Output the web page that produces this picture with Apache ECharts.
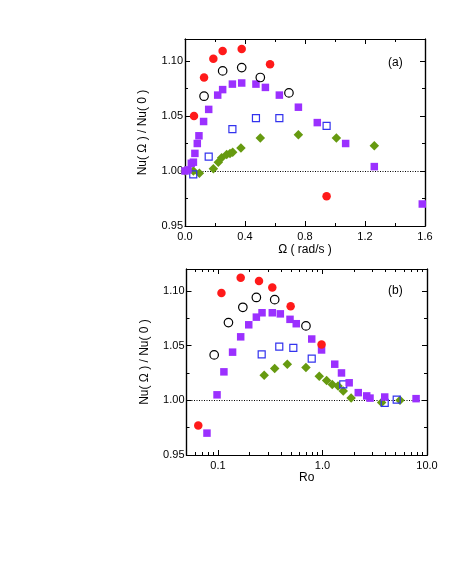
<!DOCTYPE html>
<html>
<head>
<meta charset="utf-8">
<script src="https://cdn.jsdelivr.net/npm/echarts@6/dist/echarts.min.js"></script>
<style>html,body{margin:0;padding:0;background:#fff}#c{width:450px;height:582px}</style>
</head>
<body>
<div id="c"></div>
<script>
// ---- Panel (a): Nu(Ω)/Nu(0) vs Ω (rad/s)
const aRedX = [0.06, 0.127, 0.189, 0.251, 0.378, 0.567, 0.944];
const aRedY = [1.050, 1.085, 1.102, 1.109, 1.111, 1.097, 0.977];
const aBlackX = [0.127, 0.251, 0.378, 0.502, 0.693];
const aBlackY = [1.068, 1.091, 1.094, 1.085, 1.071];
const aPurpleX = [0, 0.02, 0.042, 0.056, 0.066, 0.082, 0.093, 0.124, 0.158, 0.218, 0.251, 0.316, 0.378, 0.473, 0.536, 0.629, 0.756, 0.882, 1.071, 1.262, 1.582];
const aPurpleY = [1.000, 1.001, 1.007, 1.008, 1.016, 1.025, 1.032, 1.045, 1.056, 1.069, 1.074, 1.079, 1.080, 1.079, 1.076, 1.069, 1.058, 1.044, 1.025, 1.004, 0.970];
const aBlueX = [0.055, 0.158, 0.316, 0.473, 0.629, 0.944];
const aBlueY = [0.997, 1.013, 1.038, 1.048, 1.048, 1.041];
const aGreenX = [0, 0.056, 0.096, 0.189, 0.222, 0.244, 0.278, 0.300, 0.318, 0.373, 0.502, 0.756, 1.009, 1.262];
const aGreenY = [1.000, 1.000, 0.998, 1.002, 1.008, 1.012, 1.015, 1.016, 1.017, 1.021, 1.030, 1.033, 1.030, 1.023];

// ---- Panel (b): Nu(Ω)/Nu(0) vs Ro
const bRedX = [0.0648, 0.108, 0.165, 0.247, 0.331, 0.496, 0.98];
const bRedY = [0.977, 1.098, 1.112, 1.109, 1.103, 1.086, 1.051];
const bBlackX = [0.092, 0.126, 0.173, 0.233, 0.349, 0.695];
const bBlackY = [1.0415, 1.071, 1.085, 1.094, 1.092, 1.068];
const bPurpleX = [0.0785, 0.098, 0.114, 0.138, 0.165, 0.197, 0.233, 0.264, 0.331, 0.395, 0.489, 0.561, 0.789, 0.98, 1.31, 1.52, 1.80, 2.2, 2.65, 2.85, 3.94, 7.86];
const bPurpleY = [0.970, 1.005, 1.026, 1.044, 1.058, 1.069, 1.076, 1.080, 1.080, 1.079, 1.074, 1.070, 1.056, 1.046, 1.033, 1.025, 1.016, 1.007, 1.004, 1.002, 1.003, 1.0015];
const bBlueX = [0.262, 0.386, 0.526, 0.789, 1.58, 3.94, 5.13];
const bBlueY = [1.042, 1.049, 1.048, 1.038, 1.0145, 0.9976, 1.0006];
const bGreenX = [0.277, 0.349, 0.461, 0.695, 0.931, 1.096, 1.24, 1.41, 1.58, 1.88, 3.68, 5.52];
const bGreenY = [1.023, 1.029, 1.033, 1.030, 1.022, 1.018, 1.0145, 1.013, 1.0085, 1.002, 0.998, 1.000];

// ---- tick labels
const yMajor = [0.95, 1.00, 1.05, 1.10];
const yMinor = [0.975, 1.025, 1.075];
const roMajor = [0.1, 1, 10];
const roMajorLabels = ['0.1', '1.0', '10.0'];
const roMinor = [0.06, 0.07, 0.08, 0.09, 0.2, 0.3, 0.4, 0.5, 0.6, 0.7, 0.8, 0.9, 2, 3, 4, 5, 6, 7, 8, 9];

const FONT = 'Liberation Sans, Arial, Helvetica, sans-serif';
const pair = (xs, ys) => xs.map((x, i) => [x, ys[i]]);
const C = { red: '#ff1a1a', black: '#000000', purple: '#9b30ff', blue: '#3333ee', green: '#669a10' };

const labelStyle = { color: '#000', fontFamily: FONT, fontSize: 11 };
const lineStyle = { show: true, lineStyle: { color: '#000', width: 1.2 } };

function yAxes(grid) {
  const base = { type: 'value', gridIndex: grid, min: 0.95, max: 1.12, splitLine: { show: false }, axisLine: lineStyle };
  return [
    Object.assign({}, base, {
      position: 'left',
      name: 'Nu( \u03a9 ) / Nu( 0 )', nameLocation: 'middle', nameGap: 36,
      nameTextStyle: { color: '#000', fontFamily: FONT, fontSize: 12 },
      axisLabel: Object.assign({ customValues: yMajor, margin: 2, formatter: v => v.toFixed(2) }, labelStyle),
      axisTick: { inside: true, length: 5, customValues: yMajor, lineStyle: { color: '#000' } }
    }),
    Object.assign({}, base, { position: 'left', axisLabel: { show: false },
      axisTick: { inside: true, length: 3, customValues: yMinor, lineStyle: { color: '#000' } } }),
    Object.assign({}, base, { position: 'right', axisLabel: { show: false },
      axisTick: { inside: true, length: 5, customValues: yMajor, lineStyle: { color: '#000' } } }),
    Object.assign({}, base, { position: 'right', axisLabel: { show: false },
      axisTick: { inside: true, length: 3, customValues: yMinor, lineStyle: { color: '#000' } } })
  ];
}

const xA = { type: 'value', gridIndex: 0, min: 0, max: 1.6, interval: 0.4, splitLine: { show: false }, axisLine: lineStyle,
  axisTick: { inside: true, length: 5, lineStyle: { color: '#000' } },
  minorTick: { show: true, splitNumber: 2, length: 3, lineStyle: { color: '#000' } } };
const xB = { type: 'log', logBase: 10, gridIndex: 1, min: 0.05, max: 10, splitLine: { show: false }, axisLine: lineStyle };

const xAxis = [
  Object.assign({}, xA, { position: 'bottom', name: '\u03a9 ( rad/s )', nameLocation: 'middle', nameGap: 18,
    nameTextStyle: { color: '#000', fontFamily: FONT, fontSize: 12 },
    axisLabel: Object.assign({ margin: 5, formatter: v => v.toFixed(1) }, labelStyle) }),
  Object.assign({}, xA, { position: 'top', axisLabel: { show: false } }),
  Object.assign({}, xB, { position: 'bottom', name: 'Ro', nameLocation: 'middle', nameGap: 17,
    nameTextStyle: { color: '#000', fontFamily: FONT, fontSize: 12 },
    axisLabel: Object.assign({ customValues: roMajor, margin: 5,
      formatter: v => roMajorLabels[roMajor.findIndex(m => Math.abs(m - v) / m < 1e-6)] || '' }, labelStyle),
    axisTick: { inside: true, length: 5, customValues: roMajor, lineStyle: { color: '#000' } } }),
  Object.assign({}, xB, { position: 'bottom', axisLabel: { show: false },
    axisTick: { inside: true, length: 3, customValues: roMinor, lineStyle: { color: '#000' } } }),
  Object.assign({}, xB, { position: 'top', axisLabel: { show: false },
    axisTick: { inside: true, length: 5, customValues: roMajor, lineStyle: { color: '#000' } } }),
  Object.assign({}, xB, { position: 'top', axisLabel: { show: false },
    axisTick: { inside: true, length: 3, customValues: roMinor, lineStyle: { color: '#000' } } })
];

const yAxis = yAxes(0).concat(yAxes(1));

function sc(name, xi, yi, data, sym, size, color, filled) {
  return {
    type: 'scatter', name, xAxisIndex: xi, yAxisIndex: yi, data, symbol: sym, symbolSize: size, z: 3,
    itemStyle: filled ? { color: color, borderWidth: 0, opacity: 1 }
                      : { color: 'rgba(0,0,0,0)', borderColor: color, borderWidth: 1.2, opacity: 1 },
    emphasis: { disabled: true }
  };
}
function refLine(xi, yi) {
  return {
    type: 'scatter', xAxisIndex: xi, yAxisIndex: yi, data: [], z: 1, silent: true,
    markLine: { silent: true, symbol: ['none', 'none'], label: { show: false }, z: 1,
      lineStyle: { color: '#000', type: [1, 1.5], width: 1.2 }, data: [{ yAxis: 1.0 }] }
  };
}

const series = [
  refLine(0, 0),
  sc('a-green', 0, 0, pair(aGreenX, aGreenY), 'diamond', 9.5, C.green, true),
  sc('a-blue', 0, 0, pair(aBlueX, aBlueY), 'rect', 7, C.blue, false),
  sc('a-purple', 0, 0, pair(aPurpleX, aPurpleY), 'rect', 7.5, C.purple, true),
  sc('a-black', 0, 0, pair(aBlackX, aBlackY), 'circle', 8.5, C.black, false),
  sc('a-red', 0, 0, pair(aRedX, aRedY), 'circle', 8.5, C.red, true),
  refLine(2, 4),
  sc('b-green', 2, 4, pair(bGreenX, bGreenY), 'diamond', 9.5, C.green, true),
  sc('b-blue', 2, 4, pair(bBlueX, bBlueY), 'rect', 7, C.blue, false),
  sc('b-purple', 2, 4, pair(bPurpleX, bPurpleY), 'rect', 7.5, C.purple, true),
  sc('b-black', 2, 4, pair(bBlackX, bBlackY), 'circle', 8.5, C.black, false),
  sc('b-red', 2, 4, pair(bRedX, bRedY), 'circle', 8.5, C.red, true)
];

const chart = echarts.init(document.getElementById('c'), null, { renderer: 'canvas' });
chart.setOption({
  backgroundColor: '#fff',
  animation: false,
  grid: [
    { left: 185, top: 39, width: 240, height: 187, show: false, containLabel: false },
    { left: 186.5, top: 269, width: 240.5, height: 186, show: false, containLabel: false }
  ],
  xAxis, yAxis, series,
  graphic: [
    { type: 'text', left: 388, top: 57, style: { text: '(a)', fill: '#000', font: '12px ' + FONT } },
    { type: 'text', left: 388, top: 285, style: { text: '(b)', fill: '#000', font: '12px ' + FONT } }
  ]
});
</script>
</body>
</html>
